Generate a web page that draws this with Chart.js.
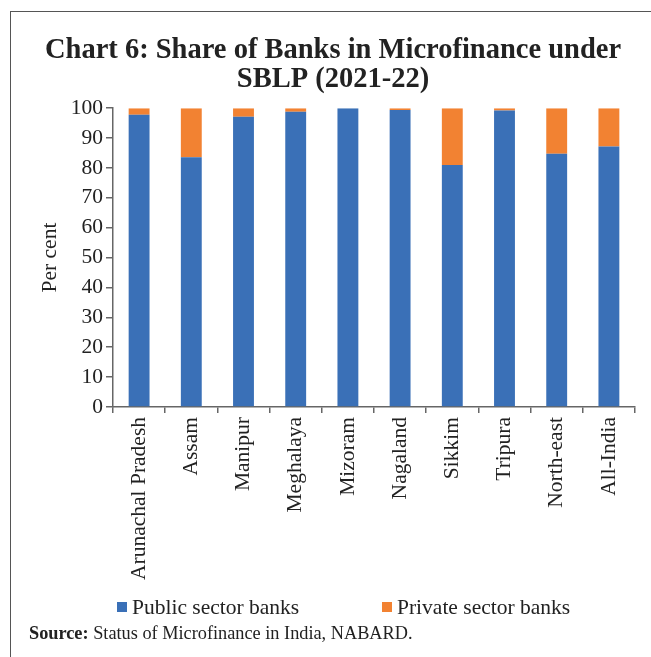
<!DOCTYPE html>
<html lang="en">
<head>
    <meta charset="UTF-8">
    <title>Chart 6: Share of Banks in Microfinance under SBLP (2021-22)</title>
    <script src="https://cdn.jsdelivr.net/npm/chart.js@4.4.1/dist/chart.umd.min.js"></script>
    <style>
        body {
            margin: 0;
            width: 651px;
            height: 657px;
            position: relative;
            overflow: hidden;
            background: #fff;
            font-family: 'Liberation Serif', serif;
            color: #222;
        }
        .frame {
            position: absolute;
            left: 10px;
            top: 11px;
            width: 700px;
            height: 700px;
            border-left: 1.5px solid #555;
            border-top: 1.5px solid #555;
            pointer-events: none;
        }
        .chart-box {
            position: absolute;
            left: 31px;
            top: 0;
            width: 620px;
            height: 657px;
        }
        .legend-item {
            position: absolute;
            top: 594px;
            font-size: 21.5px;
            line-height: 26px;
            white-space: nowrap;
        }
        .legend-item span.swatch {
            position: absolute;
            left: 0;
            top: 8px;
            width: 10px;
            height: 10px;
        }
        .legend-item span.label {
            position: absolute;
            left: 15px;
            top: 0;
        }
        .source {
            position: absolute;
            left: 29px;
            top: 623px;
            font-size: 18.3px;
            white-space: nowrap;
        }
    </style>
</head>
<body>
    <div class="frame"></div>
    <div class="chart-box">
        <canvas id="sblpChart" width="620" height="657"></canvas>
    </div>
    <div id="legend"></div>
    <div class="source"><b>Source:</b> Status of Microfinance in India, NABARD.</div>

    <script>
        // share of bank loans under SBLP, 2021-22 (per cent)
        const regions = ['Arunachal Pradesh', 'Assam', 'Manipur', 'Meghalaya', 'Mizoram',
                         'Nagaland', 'Sikkim', 'Tripura', 'North-east', 'All-India'];
        const publicBanks  = [97.8, 83.6, 97.1, 98.8, 100, 99.4, 81.0, 99.2, 84.7, 87.2];
        const privateBanks = [2.2, 16.4, 2.9, 1.2, 0, 0.6, 19.0, 0.8, 15.3, 12.8];
        const yTicks = [0, 10, 20, 30, 40, 50, 60, 70, 80, 90, 100];

        const serif = 'Liberation Serif';
        const textColor = '#222';
        const axisColor = '#666';

        const ctx = document.getElementById('sblpChart').getContext('2d');
        const chart = new Chart(ctx, {
            type: 'bar',
            data: {
                labels: regions,
                datasets: [
                    {
                        label: 'Public sector banks',
                        data: publicBanks,
                        backgroundColor: '#3a70b7',
                        barPercentage: 0.4,
                        categoryPercentage: 1.0
                    },
                    {
                        label: 'Private sector banks',
                        data: privateBanks,
                        backgroundColor: '#f28232',
                        barPercentage: 0.4,
                        categoryPercentage: 1.0
                    }
                ]
            },
            options: {
                responsive: false,
                animation: false,
                layout: {
                    padding: { top: 36, right: 16, bottom: 0, left: 0 }
                },
                plugins: {
                    legend: { display: false },
                    tooltip: { enabled: false },
                    title: {
                        display: true,
                        text: ['Chart 6: Share of Banks in Microfinance under', 'SBLP (2021-22)'],
                        color: textColor,
                        font: { family: serif, size: 28.5, weight: 'bold', lineHeight: 1.02 },
                        padding: { top: 0, bottom: 14 }
                    }
                },
                scales: {
                    x: {
                        stacked: true,
                        afterFit: function(scale) { scale.height = 250; },
                        border: { display: true, color: axisColor, width: 1.5 },
                        grid: {
                            display: true,
                            offset: true,
                            drawOnChartArea: false,
                            drawTicks: true,
                            tickLength: 6,
                            color: axisColor,
                            lineWidth: 1.5
                        },
                        ticks: {
                            autoSkip: false,
                            minRotation: 90,
                            maxRotation: 90,
                            padding: 4,
                            color: textColor,
                            font: { family: serif, size: 21.5 }
                        }
                    },
                    y: {
                        stacked: true,
                        min: 0,
                        max: 100,
                        afterFit: function(scale) { scale.width = 82; },
                        afterBuildTicks: function(scale) {
                            scale.ticks = yTicks.map(v => ({ value: v }));
                        },
                        border: { display: true, color: axisColor, width: 1.5 },
                        grid: {
                            display: true,
                            drawOnChartArea: false,
                            drawTicks: true,
                            tickLength: 7,
                            color: axisColor,
                            lineWidth: 1.5
                        },
                        ticks: {
                            padding: 3,
                            color: textColor,
                            font: { family: serif, size: 21.5 }
                        },
                        title: {
                            display: true,
                            text: 'Per cent',
                            color: textColor,
                            font: { family: serif, size: 21.5, lineHeight: 1.2 },
                            padding: { top: 6, bottom: 0 }
                        }
                    }
                }
            }
        });

        // legend drawn as html under the chart, colours taken from the datasets
        const legendBox = document.getElementById('legend');
        const legendX = [117, 382];
        chart.data.datasets.forEach((ds, i) => {
            const item = document.createElement('div');
            item.className = 'legend-item';
            item.style.left = legendX[i] + 'px';
            const sw = document.createElement('span');
            sw.className = 'swatch';
            sw.style.background = ds.backgroundColor;
            const lb = document.createElement('span');
            lb.className = 'label';
            lb.textContent = ds.label;
            item.appendChild(sw);
            item.appendChild(lb);
            legendBox.appendChild(item);
        });
    </script>
</body>
</html>
